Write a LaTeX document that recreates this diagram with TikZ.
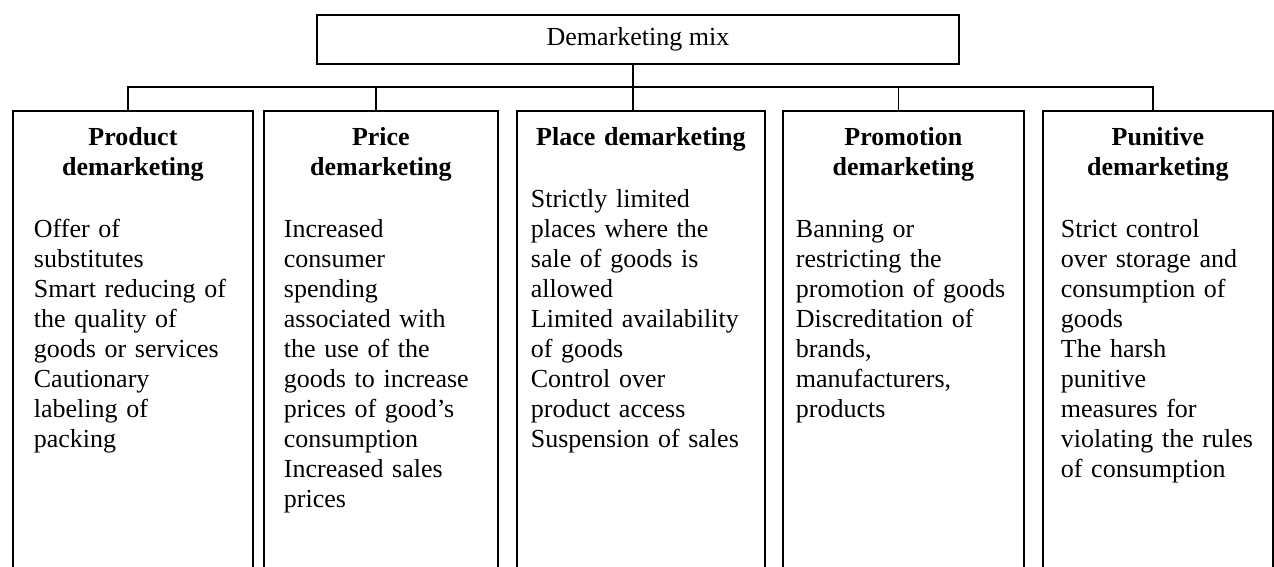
\documentclass[tikz,border=0pt]{standalone}
\usepackage{fontspec}
\setmainfont{Liberation Serif}
\usetikzlibrary{positioning}

\begin{document}
\begin{tikzpicture}[x=0.5pt, y=-0.5pt, line width=0.9pt,
    col/.style={draw, rectangle, inner sep=0pt, minimum height=240pt, anchor=north west},
    ttl/.style={inner sep=0pt, text width=124pt, align=center, font=\fontsize{13}{15}\selectfont\bfseries},
    txt/.style={inner sep=0pt, text width=135pt, align=left, font=\fontsize{13}{15}\selectfont}]
    \useasboundingbox (0,0) rectangle (1274,567);
    \clip (0,0) rectangle (1274,567);

    % top box
    \node[draw, rectangle, inner sep=0pt, minimum width=321pt, minimum height=24.5pt,
        font=\fontsize{13}{15}\selectfont] (mix) at (638,39.5) {Demarketing mix};

    % columns
    \node[col, minimum width=120pt] (prod) at (12,110) {};
    \node[col, minimum width=117pt] (price) at (263,110) {};
    \node[col, minimum width=124pt] (place) at (516,110) {};
    \node[col, minimum width=120.5pt] (promo) at (782,110) {};
    \node[col, minimum width=115pt] (punit) at (1042,110) {};

    % titles
    \node[ttl, below=7pt of prod.north] (prodT) {\strut Product\\demarketing\strut};
    \node[ttl, below=7pt of price.north] (priceT) {\strut Price\\demarketing\strut};
    \node[ttl, below=7pt of place.north] (placeT) {\strut Place demarketing\strut};
    \node[ttl, below=7pt of promo.north] (promoT) {\strut Promotion\\demarketing\strut};
    \node[ttl, below=7pt of punit.north] (punitT) {\strut Punitive\\demarketing\strut};

    % contents
    \node[txt, below right=53pt and 10.5pt of prod.north west] (prodB) {\strut Offer of\\
        substitutes\\
        Smart reducing of\\
        the quality of\\
        goods or services\\
        Cautionary\\
        labeling of\\
        packing};
    \node[txt, below right=53pt and 10pt of price.north west] (priceB) {\strut Increased\\
        consumer\\
        spending\\
        associated with\\
        the use of the\\
        goods to increase\\
        prices of good's\\
        consumption\\
        Increased sales\\
        prices};
    \node[txt, below right=38pt and 7pt of place.north west] (placeB) {\strut Strictly limited\\
        places where the\\
        sale of goods is\\
        allowed\\
        Limited availability\\
        of goods\\
        Control over\\
        product access\\
        Suspension of sales};
    \node[txt, below right=53pt and 6.5pt of promo.north west] (promoB) {\strut Banning or\\
        restricting the\\
        promotion of goods\\
        Discreditation of\\
        brands,\\
        manufacturers,\\
        products};
    \node[txt, below right=53pt and 9pt of punit.north west] (punitB) {\strut Strict control\\
        over storage and\\
        consumption of\\
        goods\\
        The harsh\\
        punitive\\
        measures for\\
        violating the rules\\
        of consumption};

    % connectors
    \coordinate (bus) at (0,87);
    \draw ([xshift=-2.5pt]mix.south) -- ([xshift=-2.5pt]mix.south |- place.north);
    \draw ([xshift=-2.5pt]prod.north) |- ([xshift=-2.5pt]punit.north |- bus) -- ([xshift=-2.5pt]punit.north);
    \foreach \n in {price,promo}
        \draw ([xshift=-2.5pt]\n.north) -- ([xshift=-2.5pt]\n.north |- bus);
\end{tikzpicture}
\end{document}
